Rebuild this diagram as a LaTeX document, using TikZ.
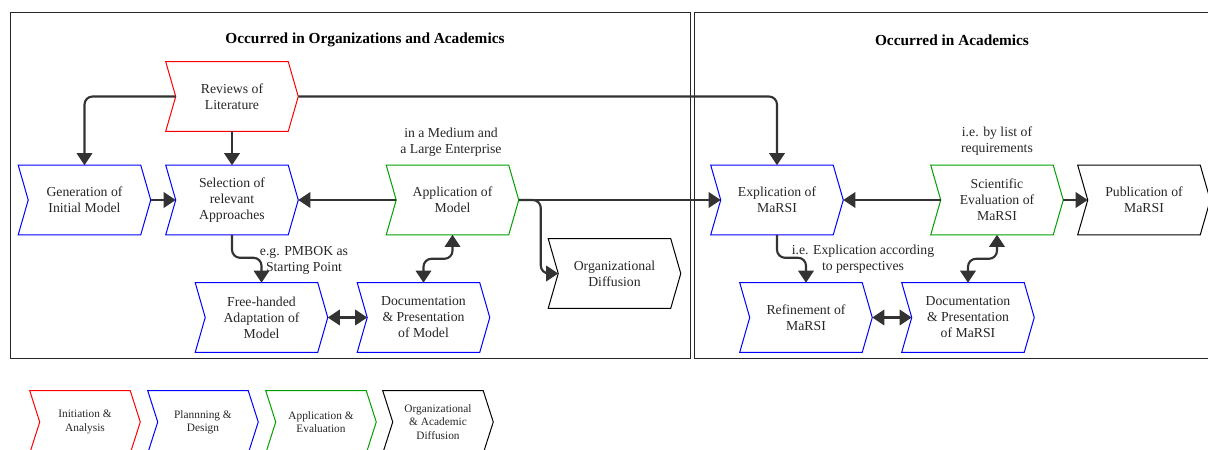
\documentclass[tikz,border=0pt]{standalone}
\usepackage{fontspec}
\setmainfont{Liberation Serif}
\usetikzlibrary{arrows.meta,calc}

\definecolor{flowred}{RGB}{255,0,0}
\definecolor{flowblue}{RGB}{0,0,255}
\definecolor{flowgreen}{RGB}{0,160,0}
\definecolor{flowblack}{RGB}{0,0,0}
\definecolor{linkgray}{RGB}{51,51,51}

\tikzset{
  stepbox/.style={shape=rectangle, inner sep=0pt, minimum width=99pt,
    minimum height=51.75pt, align=center,
    font=\fontsize{10.3}{12}\selectfont, text=black!85},
  keybox/.style={shape=rectangle, inner sep=0pt, minimum width=82.5pt,
    minimum height=46.5pt, align=center,
    font=\fontsize{8.5}{10}\selectfont, text=black!85},
  tip/.tip={Triangle[length=9pt,width=11.5pt]},
  link/.style={draw=linkgray, line width=1.6pt, rounded corners=6pt, -tip},
  twoway/.style={link, tip-tip},
  note/.style={align=center, font=\fontsize{10.3}{12}\selectfont, text=black!85},
  heading/.style={font=\fontsize{11.5}{14}\selectfont\bfseries},
  frame/.style={draw=black!85, line width=0.75pt}
}

\begin{document}
\begin{tikzpicture}[x=0.75pt, y=-0.75pt]
\useasboundingbox (0,0) rectangle (1208,450);

% the two areas
\draw[frame] (10,12) rectangle (690,358);
\draw[frame] (694,12) rectangle (1216,358);
\node[heading] (t1) at (365,40) {Occurred in Organizations and Academics};
\node[heading] (t2) at (952,40) {Occurred in Academics};

% process steps
\node[stepbox] (rev)  at (232,96.5)  {Reviews of\\Literature};
\node[stepbox] (gen)  at (84.5,200)  {Generation of\\Initial Model};
\node[stepbox] (sel)  at (232,200)   {Selection of\\relevant\\Approaches};
\node[stepbox] (app)  at (452.5,200) {Application of\\Model};
\node[stepbox] (org)  at (614.5,273.5) {Organizational\\Diffusion};
\node[stepbox] (free) at (261.5,317.5) {Free-handed\\Adaptation of\\Model};
\node[stepbox] (docm) at (423.5,317.5) {Documentation\\\& Presentation\\of Model};
\node[stepbox] (expl) at (777,200)   {Explication of\\MaRSI};
\node[stepbox] (sci)  at (997,200)   {Scientific\\Evaluation of\\MaRSI};
\node[stepbox] (pub)  at (1144,200)  {Publication of\\MaRSI};
\node[stepbox] (ref)  at (806,317.5) {Refinement of\\MaRSI};
\node[stepbox] (docr) at (968,317.5) {Documentation\\\& Presentation\\of MaRSI};

% legend
\node[keybox] (k1) at (85,422)  {Initiation \&\\Analysis};
\node[keybox] (k2) at (203,422) {Plannning \&\\Design};
\node[keybox] (k3) at (321,422) {Application \&\\Evaluation};
\node[keybox] (k4) at (438,422) {Organizational\\\& Academic\\Diffusion};

% chevron outlines and their notch points
\foreach \n/\c in {rev/flowred, gen/flowblue, sel/flowblue, app/flowgreen,
    org/flowblack, free/flowblue, docm/flowblue, expl/flowblue,
    sci/flowgreen, pub/flowblack, ref/flowblue, docr/flowblue,
    k1/flowred, k2/flowblue, k3/flowgreen, k4/flowblack}{
  \draw[\c, line width=0.75pt, line join=miter]
    (\n.north west) -- ($(\n.north east)+(-10,0)$) -- (\n.east)
    -- ($(\n.south east)+(-10,0)$) -- (\n.south west)
    -- ($(\n.west)+(10,0)$) -- cycle;
  \coordinate (\n-notch) at ($(\n.west)+(10,0)$);
}

% annotations
\node[note] (n1) at (451,142) {in a Medium and\\a Large Enterprise};
\node[note] (n2) at (997,141) {i.e. by list of\\requirements};
\node[note] (n3) at (304,260) {e.g. PMBOK as\\Starting Point};
\node[note] (n4) at (863,259) {i.e. Explication according\\to perspectives};

% connectors
\draw[link] (rev-notch) -| (gen.north);
\draw[link] (rev.south) -- (sel.north);
\draw[link] (rev.east) -| (expl.north);
\draw[link] (gen.east) -- (sel-notch);
\draw[link] (app-notch) -- (sel.east);
\draw[link] (app.east) -- (expl-notch);
\draw[link] (app.east) -- ++(22,0) |- (org-notch);
\draw[link] (sel.south) -- ++(0,23) -| (free.north);
\draw[twoway] (app.south) -- ++(0,24) -| (docm.north);
\draw[twoway] (free.east) -- (docm-notch);
\draw[link] (expl.south) -- ++(0,23) -| (ref.north);
\draw[link] (sci-notch) -- (expl.east);
\draw[link] (sci.east) -- (pub-notch);
\draw[twoway] (sci.south) -- ++(0,24) -| (docr.north);
\draw[twoway] (ref.east) -- (docr-notch);
\end{tikzpicture}
\end{document}
